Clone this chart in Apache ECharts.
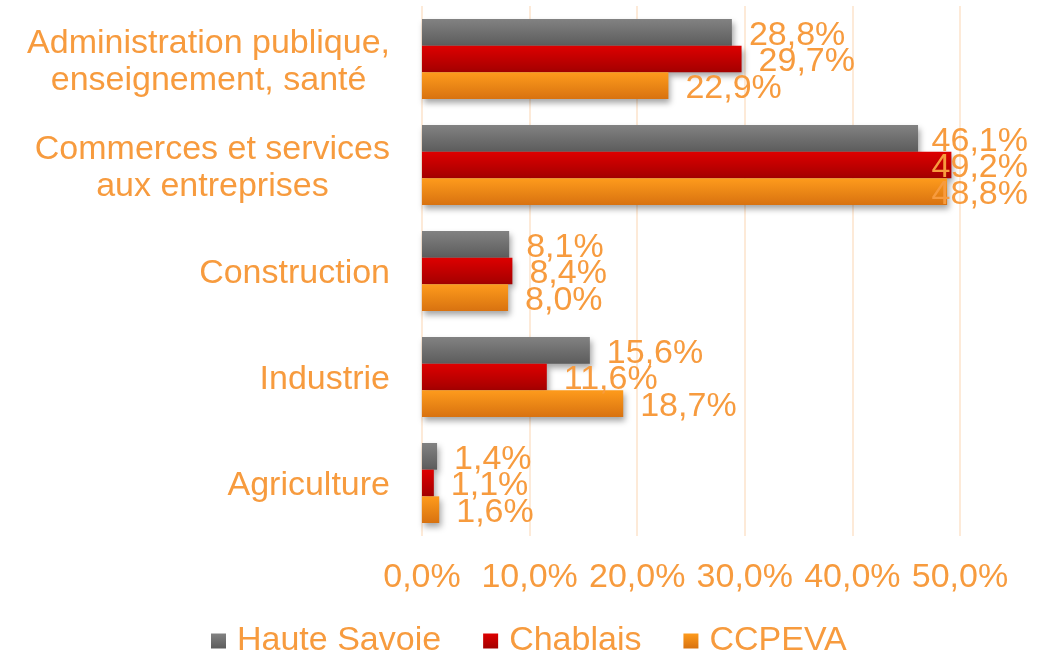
<!DOCTYPE html>
<html>
<head>
<meta charset="utf-8">
<script src="https://cdn.jsdelivr.net/npm/echarts@6/dist/echarts.min.js"></script>
<style>
  html, body { margin: 0; padding: 0; background: #fff; }
  #chart { width: 1040px; height: 654px; }
</style>
</head>
<body>
<div id="chart"></div>
<script>
// categories from bottom to top (category y axis grows upward)
var categories = [
  "Agriculture",
  "Industrie",
  "Construction",
  "Commerces et services\naux entreprises",
  "Administration publique,\nenseignement, santé"
];
var hauteSavoie = [1.4, 15.6, 8.1, 46.1, 28.8];
var chablais = [1.1, 11.6, 8.4, 49.2, 29.7];
var ccpeva = [1.6, 18.7, 8.0, 48.8, 22.9];
var seriesNames = ["Haute Savoie", "Chablais", "CCPEVA"];

var orange = "#F79B3E";
var font = "'Liberation Sans', Arial, sans-serif";

function pct(v) {
  return v.toFixed(1).replace(".", ",") + "%";
}

function grad(top, bottom) {
  return new echarts.graphic.LinearGradient(0, 0, 0, 1, [
    { offset: 0, color: top },
    { offset: 1, color: bottom }
  ]);
}

function makeSeries(name, data, c1, c2) {
  return {
    name: name,
    type: "bar",
    data: data,
    barGap: "0%",
    barCategoryGap: "24.5%",
    itemStyle: {
      color: grad(c1, c2),
      shadowColor: "rgba(0,0,0,0.35)",
      shadowBlur: 6,
      shadowOffsetX: 2,
      shadowOffsetY: 4
    },
    label: {
      show: true,
      position: "right",
      distance: 17,
      color: orange,
      fontSize: 34,
      fontFamily: font,
      formatter: function (p) { return pct(p.value); }
    },
    // like excel: labels that would leave the chart are pulled back inside
    labelLayout: function (params) {
      var r = params.labelRect;
      var over = r.x + r.width - 1028;
      return { dx: over > 0 ? -over : 0, dy: 3 };
    }
  };
}

var myChart = echarts.init(document.getElementById("chart"));
myChart.setOption({
  animation: false,
  textStyle: { fontFamily: font },
  grid: { left: 422, right: 80, top: 6, bottom: 118, containLabel: false },
  legend: {
    data: seriesNames,
    top: 619,
    left: 206,
    icon: "rect",
    itemWidth: 15,
    itemHeight: 15,
    itemGap: 42,
    textStyle: { color: orange, fontSize: 34, fontFamily: font, padding: [0, 0, 0, 6] }
  },
  xAxis: {
    type: "value",
    min: 0,
    max: 50,
    interval: 10,
    axisLine: { show: false },
    axisTick: { show: false },
    splitLine: { lineStyle: { color: "#FDE3CB", width: 1.5 } },
    axisLabel: {
      color: orange,
      fontSize: 34,
      fontFamily: font,
      margin: 25,
      formatter: function (v) { return pct(v); }
    }
  },
  yAxis: {
    type: "category",
    data: categories,
    axisLine: { show: false },
    axisTick: { show: false },
    axisLabel: {
      color: orange,
      fontSize: 34,
      fontFamily: font,
      margin: 32,
      lineHeight: 37,
      padding: [6, 0, 0, 0],
      formatter: function (v) {
        return v.split("\n").map(function (l) { return "{c|" + l + "}"; }).join("\n");
      },
      rich: {
        c: { align: "center", color: orange, fontSize: 34, fontFamily: font, lineHeight: 37 }
      }
    }
  },
  series: [
    makeSeries(seriesNames[0], hauteSavoie, "#828282", "#5c5c5c"),
    makeSeries(seriesNames[1], chablais, "#DE0000", "#A30000"),
    makeSeries(seriesNames[2], ccpeva, "#FE9B1C", "#D87210")
  ]
});
</script>
</body>
</html>
